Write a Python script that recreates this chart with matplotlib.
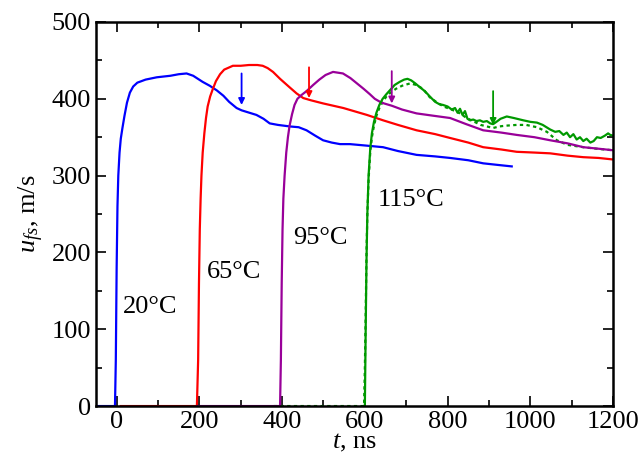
import numpy as np
import matplotlib
matplotlib.use("Agg")
import matplotlib.pyplot as plt
from matplotlib.ticker import MultipleLocator

plt.rcParams['font.family'] = ['Liberation Serif', 'DejaVu Serif']
plt.rcParams['mathtext.fontset'] = 'custom'
plt.rcParams['mathtext.rm'] = 'Liberation Serif'
plt.rcParams['mathtext.it'] = 'Liberation Serif:italic'

# 20 C (blue)
t_20 = [-50, -4, -2, 0, 2, 4, 7, 10, 14, 19, 25, 32, 40, 50, 70, 97, 130, 150, 169, 185,
        208, 225, 242, 258, 272, 290, 302, 320, 338, 355, 370, 390, 419, 440, 459, 480, 499,
        520, 540, 564, 605, 644, 680, 725, 770, 806, 850, 886, 920, 955]
u_20 = [0, 0, 60, 180, 260, 300, 330, 348, 362, 378, 395, 408, 416, 421, 425, 428, 430, 432, 433, 430,
        422, 417, 411, 404, 396, 388, 385, 382, 379, 374, 368, 366, 364, 363, 359, 352, 346,
        343, 341, 341, 339, 337, 332, 327, 325, 323, 320, 316, 314, 312]
# 65 C (red)
t_65 = [10, 194, 197, 199, 201, 203, 205, 208, 212, 216, 220, 226, 232, 240, 250, 260, 281,
        300, 320, 340, 353, 365, 378, 395, 418, 435, 451, 470, 499, 548,
        605, 644, 680, 725, 770, 806, 850, 886, 930, 967, 1010, 1048, 1090, 1128, 1165, 1200]
u_65 = [0, 0, 60, 160, 230, 270, 300, 330, 355, 375, 390, 403, 412, 423, 432, 438, 443,
        443, 444, 444, 443, 440, 435, 426, 415, 407, 401, 398, 394, 388,
        379, 372, 366, 359, 354, 349, 343, 337, 334, 331, 330, 329, 326, 324, 323, 321]
# 95 C (purple)
t_95 = [195, 395, 397, 399, 401, 403, 406, 410, 414, 418, 424, 430, 437, 447, 459, 475, 490,
        505, 523, 547, 565, 581, 597, 612, 624, 640, 665, 690, 725, 765,
        806, 845, 886, 930, 967, 1010, 1048, 1090, 1128, 1165, 1200]
u_95 = [0, 0, 60, 160, 230, 270, 300, 330, 350, 365, 380, 392, 400, 405, 410, 418, 425,
        431, 435, 433, 427, 420, 413, 406, 400, 395, 391, 386, 381, 378,
        375, 367, 359, 356, 353, 350, 346, 342, 337, 335, 333]
# 115 C (green, solid)
t_115 = [600, 602, 604, 606, 609, 613, 617, 622, 628, 635, 643, 652, 662, 672, 684, 695, 703,
         712, 722, 733, 745, 757, 770, 780, 789, 800, 810, 818, 824, 830, 836, 842, 848, 854,
         862, 870, 878, 886, 895, 903, 910, 918, 928, 943, 960, 983, 1000, 1016, 1030, 1048,
         1060, 1070, 1080, 1088, 1096, 1104, 1112, 1120, 1128, 1136, 1145, 1153, 1161, 1170,
         1180, 1188, 1193, 1200]
u_115 = [0, 100, 190, 250, 300, 335, 355, 370, 382, 392, 400, 406, 412, 418, 422, 425, 426,
         424, 420, 415, 410, 403, 396, 393, 392, 390, 386, 388, 382, 387, 379, 384, 374, 372,
         373, 371, 372, 370, 371, 368, 367, 370, 374, 377, 375, 372, 370, 369, 366, 360,
         357, 358, 353, 356, 350, 354, 347, 350, 345, 348, 343, 345, 350, 349, 352, 355, 353, 352]
# 115 C (green, dotted)
t_115d = [380, 598, 600, 602, 604, 606, 609, 613, 617, 622, 628, 635, 643, 652, 662, 675,
          690, 709, 725, 740, 757, 775, 790, 810, 830, 846, 865, 880, 895, 910, 925, 940,
          967, 990, 1016, 1040, 1064, 1090, 1128, 1160, 1200]
u_115d = [0, 0, 50, 120, 200, 250, 295, 330, 350, 365, 378, 388, 396, 403, 408, 413,
          417, 420, 418, 413, 402, 395, 390, 386, 381, 375, 370, 366, 364, 362, 364, 365,
          366, 366, 363, 357, 346, 340, 337, 335, 333]

arrow_t = [302, 465, 665, 910]
arrow_top = [433, 441, 436, 410]
arrow_tip = [392, 401, 394, 366]

labels = ["20°C", "65°C", "95°C", "115°C"]
label_t = [14, 218, 426, 632]
label_u = [129, 174, 219, 268]

colors = ['#0000ff', '#ff0000', '#990099', '#009900']

fig = plt.figure(figsize=(6.44, 4.63), dpi=100)
ax = fig.add_axes([0.149, 0.123, 0.803, 0.8295])

ax.plot(t_115d, u_115d, color=colors[3], lw=1.6, ls=(0, (1.5, 1.5)))
ax.plot(t_20, u_20, color=colors[0], lw=1.6)
ax.plot(t_65, u_65, color=colors[1], lw=1.6)
ax.plot(t_95, u_95, color=colors[2], lw=1.6)
ax.plot(t_115, u_115, color=colors[3], lw=1.6)

for i in range(4):
    ax.annotate('', xy=(arrow_t[i], arrow_tip[i]), xytext=(arrow_t[i], arrow_top[i]),
                arrowprops=dict(arrowstyle='-|>', color=colors[i], lw=1.3,
                                mutation_scale=9, shrinkA=0, shrinkB=0))
    ax.text(label_t[i], label_u[i], labels[i], fontsize=19, va='center', ha='left')

ax.set_xlim(-50, 1200)
ax.set_ylim(0, 500)
ax.xaxis.set_major_locator(MultipleLocator(200))
ax.xaxis.set_minor_locator(MultipleLocator(100))
ax.yaxis.set_major_locator(MultipleLocator(100))
ax.yaxis.set_minor_locator(MultipleLocator(50))
ax.tick_params(which='both', direction='in', top=True, right=True, width=1.2, labelsize=19)
ax.tick_params(which='major', length=7)
ax.tick_params(which='minor', length=4)
for s in ax.spines.values():
    s.set_linewidth(1.8)

ax.set_xlabel('$t$, ns', fontsize=19, labelpad=-1)
ax.set_ylabel('$u_{fs}$, m/s', fontsize=19, labelpad=4)

fig.savefig('out.png', dpi=100)
